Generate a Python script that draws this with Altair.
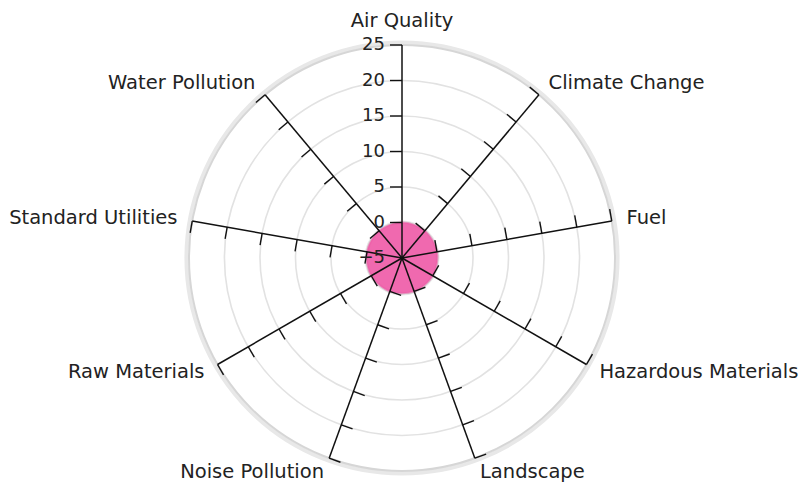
import math
import altair as alt
import pandas as pd

# ---- data ----
categories = ["Air Quality", "Climate Change", "Fuel", "Hazardous Materials",
              "Landscape", "Noise Pollution", "Raw Materials",
              "Standard Utilities", "Water Pollution"]
values = [0, 0, 0, 0, 0, 0, 0, 0, 0]
ring_values = [0, 5, 10, 15, 20, 25]
tick_labels = [-5, 0, 5, 10, 15, 20, 25]
r_min, r_max = -5, 25

# ---- geometry / style ----
PX = 7.1            # pixels per unit
N = len(categories)
W, H = 793, 476
CX, CY = 394, 250   # centre of radar inside the svg
SPAN = r_max - r_min
TICK_LEN = 12 / PX
LABEL_R = SPAN + 15 / PX
FONT = "DejaVu Sans"

cat_df = pd.DataFrame({"category": categories, "idx": list(range(N)), "value": values})
tick_df = pd.DataFrame([{"idx": i, "t": t} for i in range(N) for t in ring_values])
ring_df = pd.DataFrame({"ring": ring_values})
lab_df = pd.DataFrame({"lab": tick_labels})

xs = alt.Scale(domain=[-CX / PX, (W - CX) / PX], nice=False, zero=False)
ys = alt.Scale(domain=[-(H - CY) / PX, CY / PX], nice=False, zero=False)
rs = alt.Scale(type="linear", domain=[r_min, r_max], range=[0, SPAN * PX], nice=False, zero=False)


def X(f):
    return alt.X(f, type="quantitative", scale=xs, axis=None)


def Y(f):
    return alt.Y(f, type="quantitative", scale=ys, axis=None)


def R(f):
    return alt.Radius(f, type="quantitative", scale=rs, stack=None)


ang = f"datum.idx * 2 * PI / {N}"

ring_base = alt.Chart(ring_df).transform_calculate(cx="0", cy="0")
outer_shadow = ring_base.transform_filter(f"datum.ring == {r_max}").mark_arc(
    filled=False, stroke="#e8e8e8", strokeWidth=4, theta=0, theta2=2 * math.pi, radiusOffset=2.5
).encode(x=X("cx"), y=Y("cy"), radius=R("ring"))

rings = ring_base.mark_arc(
    filled=False, theta=0, theta2=2 * math.pi
).encode(
    x=X("cx"), y=Y("cy"), radius=R("ring"),
    stroke=alt.condition(f"datum.ring == {r_max}", alt.value("#d6d6d6"), alt.value("#e2e2e2")),
    strokeWidth=alt.condition(f"datum.ring == {r_max}", alt.value(2), alt.value(1.6)),
)

area = alt.Chart(cat_df).transform_calculate(
    a=ang, r=f"datum.value - ({r_min})"
).transform_calculate(
    px="datum.r * sin(datum.a)", py="datum.r * cos(datum.a)"
).mark_line(
    interpolate="cardinal-closed", fill="#ef5ca8", fillOpacity=0.92,
    stroke="#ef5ca8", strokeWidth=2, strokeOpacity=0.5
).encode(x=X("px"), y=Y("py"), order=alt.Order("idx:Q"))

spokes = alt.Chart(cat_df).transform_calculate(
    a=ang
).transform_calculate(
    z="0", ex=f"{SPAN} * sin(datum.a)", ey=f"{SPAN} * cos(datum.a)"
).mark_rule(color="#111111", strokeWidth=1.5).encode(
    x=X("z"), y=Y("z"), x2="ex:Q", y2="ey:Q"
)

ticks = alt.Chart(tick_df).transform_calculate(
    a=ang, r=f"datum.t - ({r_min})"
).transform_calculate(
    px="datum.r * sin(datum.a)", py="datum.r * cos(datum.a)"
).transform_calculate(
    qx=f"datum.px - {TICK_LEN} * cos(datum.a)", qy=f"datum.py + {TICK_LEN} * sin(datum.a)"
).mark_rule(color="#111111", strokeWidth=1.4).encode(
    x=X("px"), y=Y("py"), x2="qx:Q", y2="qy:Q"
)

tick_text = alt.Chart(lab_df).transform_calculate(
    z="0", r=f"datum.lab - ({r_min})"
).mark_text(align="right", baseline="middle", dx=-17, font=FONT, fontSize=18, color="#222222").encode(
    x=X("z"), y=Y("r"), text="lab:Q"
)

lab_base = alt.Chart(cat_df).transform_calculate(
    a=ang
).transform_calculate(
    lx=f"{LABEL_R} * sin(datum.a)", ly=f"{LABEL_R} * cos(datum.a)"
)
lab_enc = dict(x=X("lx"), y=Y("ly"), text="category:N")
lab_center = lab_base.transform_filter("datum.idx == 0").mark_text(
    align="center", baseline="middle", dy=-9, font=FONT, fontSize=19.5, color="#222222").encode(**lab_enc)
lab_left = lab_base.transform_filter(f"datum.idx > 0 && datum.idx <= {(N - 1) // 2}").mark_text(
    align="left", baseline="middle", font=FONT, fontSize=19.5, color="#222222").encode(**lab_enc)
lab_right = lab_base.transform_filter(f"datum.idx > {(N - 1) // 2}").mark_text(
    align="right", baseline="middle", font=FONT, fontSize=19.5, color="#222222").encode(**lab_enc)

chart = alt.layer(
    outer_shadow, rings, area, spokes, ticks, tick_text, lab_center, lab_left, lab_right
).properties(
    width=W, height=H, autosize=alt.AutoSizeParams(type="none"), padding=0,
    background="white"
).configure_view(stroke=None)

chart.save("out.html", embed_options={"renderer": "svg", "actions": False})
